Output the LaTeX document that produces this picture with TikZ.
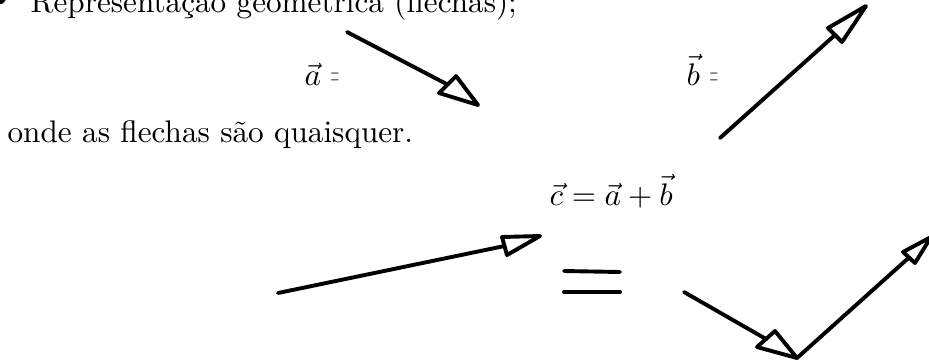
\documentclass[tikz,border=0pt]{standalone}
\usepackage{graphicx}
\usetikzlibrary{calc}
\tikzset{
  hand/.style={line width=1.25pt, line cap=round, line join=round},
  lbl/.style={inner sep=0pt, anchor=base west},
}
\newcommand{\smalleq}{\textcolor{black!60}{\scalebox{0.35}[1.1]{$=$}}}
\begin{document}
\begin{tikzpicture}[x=0.3205pt,y=-0.3205pt]
\useasboundingbox (0,0) rectangle (929,362);
\clip (0,0) rectangle (929,362);

% texts
\node[lbl] (bul) at (-8,6) {$\bullet$};
\node[lbl] (t1) at (30,12.7) {Representação geométrica (flechas);};
\node[lbl] (t2) at (7,142.7) {onde as flechas são quaisquer.};
\node[lbl] (la) at (304,85) {$\vec{a}$};
\node[lbl] (lae) at (330,85) {\smalleq};
\node[lbl] (lb) at (686,85) {$\vec{b}$};
\node[lbl] (lbe) at (709,85) {\smalleq};
\node[lbl] (lc) at (549,205) {$\vec{c} = \vec{a} + \vec{b}$};

% arrow a (top)
\coordinate (a0) at (347,32);
\coordinate (at) at (478,105);
\coordinate (ac1) at (439,93);
\coordinate (ac2) at (456,76);
\draw[hand] (a0) -- ($(ac1)!0.5!(ac2)$);
\draw[hand] (at) -- (ac1) -- (ac2) -- cycle;

% arrow b (top)
\coordinate (b0) at (720,138);
\coordinate (bt) at (866,6);
\coordinate (bc1) at (828,28);
\coordinate (bc2) at (842,42);
\draw[hand] (b0) -- ($(bc1)!0.5!(bc2)$);
\draw[hand] (bt) -- (bc1) -- (bc2) -- cycle;

% arrow c (bottom left)
\coordinate (c0) at (278,293);
\coordinate (ct) at (540,236);
\coordinate (cc1) at (502,237);
\coordinate (cc2) at (507,255);
\draw[hand] (c0) -- ($(cc1)!0.5!(cc2)$);
\draw[hand] (ct) -- (cc1) -- (cc2) -- cycle;

% equals sign
\coordinate (e1) at (564,271);
\coordinate (e2) at (620,272);
\coordinate (e3) at (564,292);
\coordinate (e4) at (620,292);
\draw[hand] (e1) -- (e2);
\draw[hand] (e3) -- (e4);

% arrow a (bottom right)
\coordinate (d0) at (684,292);
\coordinate (dt) at (797,358);
\coordinate (dc1) at (757,347);
\coordinate (dc2) at (775,331);
\draw[hand] (d0) -- ($(dc1)!0.5!(dc2)$);
\draw[hand] (dt) -- (dc1) -- (dc2) -- cycle;

% arrow b (bottom right)
\coordinate (ft) at (931,237);
\coordinate (fc1) at (903,252);
\coordinate (fc2) at (915,263);
\draw[hand] (dt) -- ($(fc1)!0.5!(fc2)$);
\draw[hand] (ft) -- (fc1) -- (fc2) -- cycle;
\end{tikzpicture}
\end{document}
